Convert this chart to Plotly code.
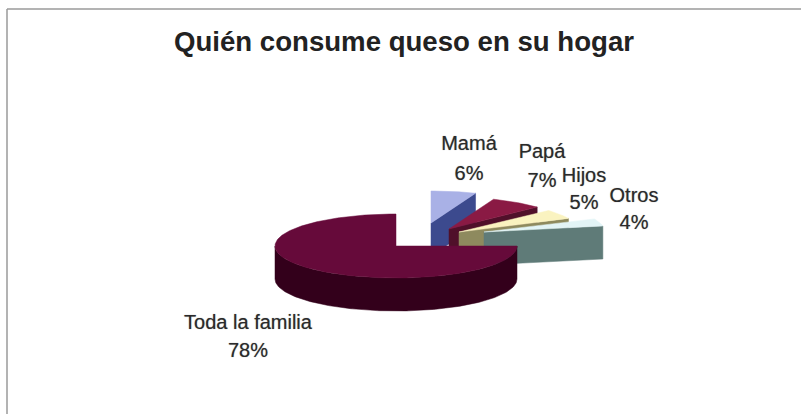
import math
import plotly.graph_objects as go

# Quién consume queso en su hogar: survey shares, in percent
categories = ["Mamá", "Papá", "Hijos", "Otros", "Toda la familia"]
shares = [6, 7, 5, 4, 78]

# Pie drawn as an oblique projection in page pixels
RX, RY, DEPTH = 121, 32, 33
apexes = [(431, 223), (449, 229), (459, 232), (484, 232), (396, 246)]
top_colors = ["#A9B1E6", "#8A1A44", "#FAF3C0", "#E2F4F6", "#660A3A"]
side_colors = ["#3C4A8E", "#50102A", "#8E8A5E", "#5F7B78", "#33001B"]
# The nearest slice spreads a little under the projection, so its start edge reads as due east
start_shift = [0, 0, 0, 0, 10.8]
label_xy = [(469, 144.5, 174.5), (542, 152.5, 181.5), (584, 176.5, 203.5), (634, 196.5, 223.5), (248, 323.5, 351.5)]


def rim(cx, cy, a0, a1, drop=0):
    steps = max(2, int(abs(a1 - a0)))
    pts = [a0 + (a1 - a0) * i / steps for i in range(steps + 1)]
    return ([cx + RX * math.sin(math.radians(a)) for a in pts],
            [cy - RY * math.cos(math.radians(a)) + drop for a in pts])


def polygon(xs, ys, color):
    return go.Scatter(x=xs + xs[:1], y=ys + ys[:1], mode="lines", fill="toself",
                      fillcolor=color, line=dict(color=color, width=0.5),
                      hoverinfo="skip", showlegend=False)


fig = go.Figure()
total = sum(shares)
start = 0
for i, share in enumerate(shares):
    end = start + 360 * share / total
    a0 = start + start_shift[i]
    cx, cy = apexes[i]
    # cut face along the slice's trailing radius
    if end < 180:
        ex, ey = rim(cx, cy, end, end)
        fig.add_trace(polygon([cx, ex[0], ex[0], cx], [cy, ey[0], ey[0] + DEPTH, cy + DEPTH], side_colors[i]))
    # outer wall for the part of the rim that faces the viewer
    lo, hi = max(a0, 90), min(end, 270)
    if lo < hi:
        tx, ty = rim(cx, cy, lo, hi)
        bx, by = rim(cx, cy, hi, lo, DEPTH)
        fig.add_trace(polygon(tx + bx, ty + by, side_colors[i]))
    # top face
    tx, ty = rim(cx, cy, a0, end)
    fig.add_trace(polygon([cx] + tx, [cy] + ty, top_colors[i]))
    start = end

names_y = [p[1] for p in label_xy]
pct_y = [p[2] for p in label_xy]
label_x = [p[0] for p in label_xy]
label_font = dict(family="Liberation Sans", size=20, color="#2a2a2a", shadow="0 0 1px rgba(0,0,0,0.45)")
fig.add_trace(go.Scatter(x=label_x, y=names_y, text=categories, mode="text", textfont=label_font,
                         textposition="middle center", hoverinfo="skip", showlegend=False))
fig.add_trace(go.Scatter(x=label_x, y=pct_y, text=[f"{s}%" for s in shares], mode="text", textfont=label_font,
                         textposition="middle center", hoverinfo="skip", showlegend=False))

fig.update_layout(
    width=801, height=414, margin=dict(l=0, r=0, t=0, b=0),
    paper_bgcolor="white", plot_bgcolor="white",
    xaxis=dict(range=[0, 801], visible=False, fixedrange=True),
    yaxis=dict(range=[414, 0], visible=False, fixedrange=True),
    annotations=[dict(text="<b>Quién consume queso en su hogar</b>", x=403.5, y=41.5, xref="x", yref="y",
                      showarrow=False, xanchor="center", yanchor="middle",
                      font=dict(family="Liberation Sans", size=27.6, color="#222222"))],
    shapes=[dict(type="line", x0=7, x1=7, y0=9, y1=414, line=dict(color="#9a9a9a", width=1.5)),
            dict(type="line", x0=7, x1=801, y0=9, y1=9, line=dict(color="#9a9a9a", width=1.5))],
)
fig.write_html("out.html")
